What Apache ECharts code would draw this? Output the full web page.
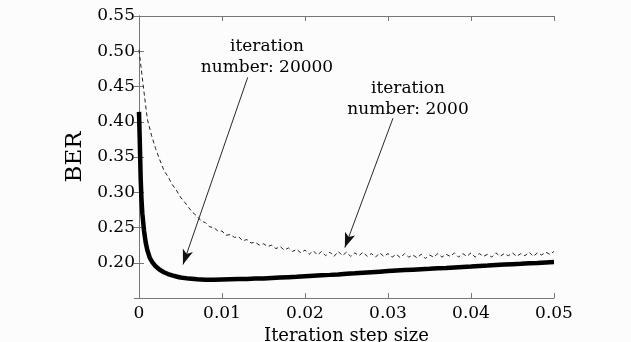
<!DOCTYPE html>
<html><head><meta charset="utf-8">
<script src="https://cdn.jsdelivr.net/npm/echarts@6/dist/echarts.min.js"></script>
<style>html,body{margin:0;padding:0;background:#fcfcfc}#c{width:631px;height:342px}</style>
</head><body><div id="c"></div>
<script>
const xTicks = ['0','0.01','0.02','0.03','0.04','0.05'];
const yTicks = ['0.20','0.25','0.30','0.35','0.40','0.45','0.50','0.55'];

// iteration number: 20000 (thick solid)
const xSolid = [0,0.0001,0.0002,0.0003,0.0004,0.0006,0.0008,0.001,0.0013,0.0016,0.002,0.0025,0.003,0.0035,0.004,0.0045,0.005,0.006,0.007,0.008,0.009,0.010,
0.011,0.012,0.013,0.014,0.015,0.016,0.017,0.018,0.019,0.020,0.021,0.022,0.023,0.024,0.025,0.026,0.027,0.028,0.029,0.030,
0.031,0.032,0.033,0.034,0.035,0.036,0.037,0.038,0.039,0.040,0.041,0.042,0.043,0.044,0.045,0.046,0.047,0.048,0.049,0.050];
const ySolid = [0.414,0.37,0.32,0.29,0.27,0.246,0.229,0.218,0.207,0.201,0.195,0.190,0.1865,0.184,0.182,0.1805,0.179,0.1775,0.1765,0.176,0.1758,0.1762,
0.1765,0.1768,0.177,0.1775,0.1778,0.1785,0.179,0.1795,0.180,0.1808,0.1815,0.1822,0.1828,0.1835,0.1843,0.185,0.1858,0.1866,0.1874,0.1882,
0.1889,0.1896,0.1902,0.1908,0.1914,0.1921,0.1927,0.1934,0.1941,0.1947,0.1954,0.196,0.1967,0.1974,0.198,0.1986,0.1993,0.1998,0.2004,0.201];

// iteration number: 2000 (thin dashed, noisy)
const xDashed = [0,0.0005,0.001,0.0015,0.002,0.0025,0.003,0.0035,0.004,0.0045,0.005,0.0055,0.006,0.0065,0.007,0.0075,0.008,0.0085,0.009,0.0095,
0.010,0.0105,0.011,0.0115,0.012,0.0125,0.013,0.0135,0.014,0.0145,0.015,0.0155,0.016,0.0165,0.017,0.0175,0.018,0.0185,0.019,0.0195,
0.020,0.0205,0.021,0.0215,0.022,0.0225,0.023,0.0235,0.024,0.0245,0.025,0.0255,0.026,0.0265,0.027,0.0275,0.028,0.0285,0.029,0.0295,
0.030,0.0305,0.031,0.0315,0.032,0.0325,0.033,0.0335,0.034,0.0345,0.035,0.0355,0.036,0.0365,0.037,0.0375,0.038,0.0385,0.039,0.0395,
0.040,0.0405,0.041,0.0415,0.042,0.0425,0.043,0.0435,0.044,0.0445,0.045,0.0455,0.046,0.0465,0.047,0.0475,0.048,0.0485,0.049,0.0495,0.050];
const yDashed = [0.502,0.452,0.404,0.381,0.362,0.346,0.331,0.322,0.311,0.303,0.293,0.286,0.278,0.271,0.266,0.259,0.257,0.251,0.250,0.245,
0.245,0.239,0.240,0.236,0.237,0.231,0.233,0.228,0.229,0.225,0.227,0.223,0.225,0.220,0.223,0.218,0.221,0.216,0.219,0.214,
0.218,0.212,0.217,0.211,0.216,0.210,0.215,0.209,0.216,0.210,0.215,0.209,0.214,0.210,0.215,0.209,0.213,0.208,0.214,0.209,
0.213,0.208,0.212,0.207,0.213,0.208,0.211,0.207,0.212,0.206,0.211,0.208,0.213,0.208,0.212,0.209,0.214,0.208,0.213,0.209,
0.214,0.208,0.213,0.209,0.212,0.208,0.214,0.209,0.213,0.210,0.214,0.209,0.213,0.210,0.215,0.209,0.214,0.211,0.215,0.212,0.216];

const arrows = [
  {from:[0.0131,0.463], to:[0.0053,0.1975]},
  {from:[0.0306,0.405], to:[0.0248,0.2215]}
];

const FONT = 'DejaVu Serif';
const chart = echarts.init(document.getElementById('c'), null, {renderer:'canvas'});
const frame = {show:true, lineStyle:{color:'#777', width:1}};
const tick = {show:true, inside:true, length:5, lineStyle:{color:'#777'}};
const xBase = {type:'value', min:0, max:0.05, interval:0.01, splitLine:{show:false}, axisLine:frame, axisTick:tick};
const yBase = {type:'value', min:0.15, max:0.55, interval:0.05, splitLine:{show:false}, axisLine:frame, axisTick:tick};

chart.setOption({
  backgroundColor:'#fcfcfc',
  animation:false,
  grid:{left:139, right:77, top:16, bottom:44, containLabel:false, outerBoundsMode:'none'},
  xAxis:[
    Object.assign({}, xBase, {position:'bottom',
      name:'Iteration step size', nameLocation:'middle', nameGap:25,
      nameTextStyle:{fontFamily:FONT, fontSize:18, color:'#000'},
      axisLabel:{fontFamily:FONT, fontSize:17, color:'#000', margin:7,
        formatter:v=>{const i=Math.round(v/0.01); return xTicks[i]!==undefined?xTicks[i]:'';}}}),
    Object.assign({}, xBase, {position:'top', axisLabel:{show:false}})
  ],
  yAxis:[
    Object.assign({}, yBase, {position:'left',
      name:'BER', nameLocation:'middle', nameGap:50,
      nameTextStyle:{fontFamily:FONT, fontSize:23, color:'#000'},
      axisLabel:{fontFamily:FONT, fontSize:17, color:'#000', margin:4,
        formatter:v=>{const i=Math.round((v-0.20)/0.05); return (i>=0&&yTicks[i]!==undefined)?yTicks[i]:'';}}}),
    Object.assign({}, yBase, {position:'right', axisLabel:{show:false}})
  ],
  series:[
    {type:'line', name:'iteration number: 2000', xAxisIndex:0, yAxisIndex:0, showSymbol:false, symbol:'none',
      data:xDashed.map((x,i)=>[x,yDashed[i]]),
      lineStyle:{color:'#222', width:1, type:[4,3]}},
    {type:'line', name:'iteration number: 20000', xAxisIndex:0, yAxisIndex:0, showSymbol:false, symbol:'none',
      data:xSolid.map((x,i)=>[x,ySolid[i]]),
      lineStyle:{color:'#000', width:4.5},
      markLine:{silent:true, symbol:['none','arrow'], symbolSize:[8,15],
        lineStyle:{color:'#111', width:0.9, type:'solid'}, label:{show:false},
        data:arrows.map(a=>[{coord:a.from},{coord:a.to}])}}
  ],
  graphic:[
    {type:'text', x:267, y:36, style:{text:'iteration\nnumber: 20000', font:'17px "DejaVu Serif"', fill:'#000', align:'center', lineHeight:21}},
    {type:'text', x:408, y:78, style:{text:'iteration\nnumber: 2000', font:'17px "DejaVu Serif"', fill:'#000', align:'center', lineHeight:21}}
  ]
});
</script></body></html>
